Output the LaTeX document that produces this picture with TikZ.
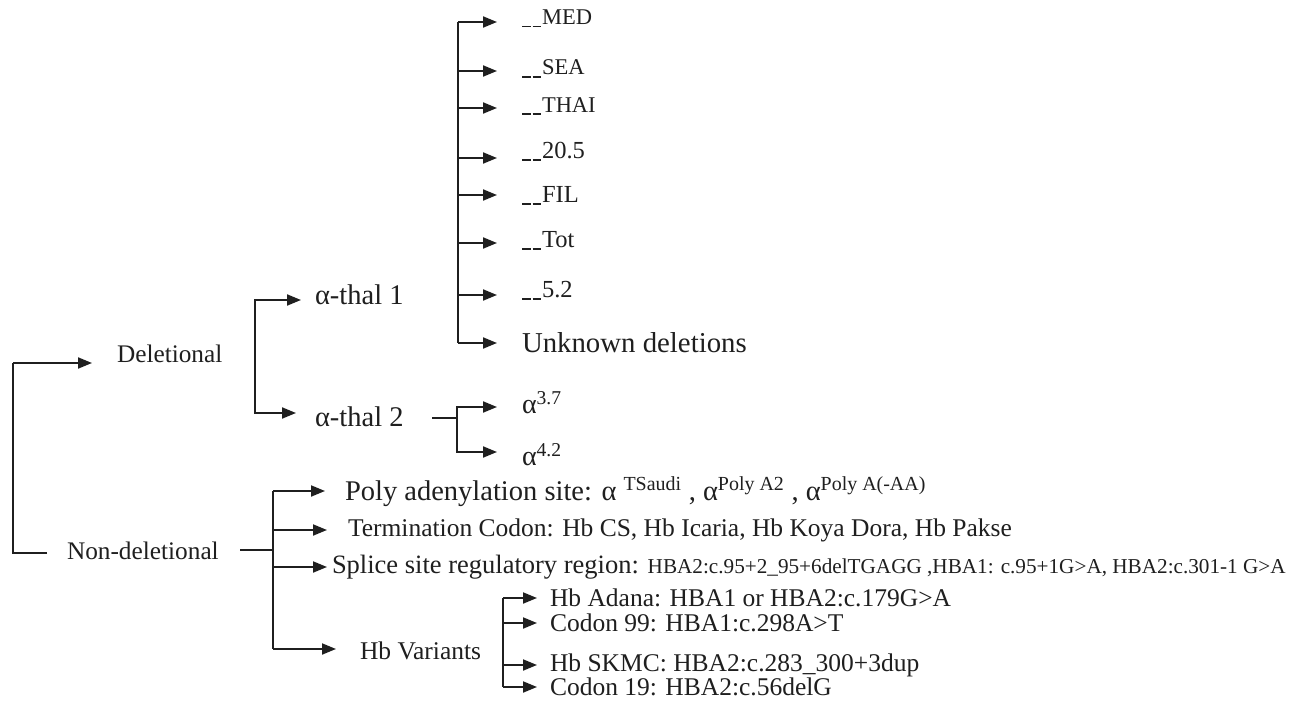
\documentclass[tikz,border=0pt]{standalone}
\usepackage{fontspec}
\setmainfont{Liberation Serif}
\usetikzlibrary{arrows.meta}
\newcommand\fs[1]{\fontsize{#1}{#1}\selectfont}
\newcommand\dd{\rule[-2.5pt]{8.5pt}{1.7pt}\hspace{2pt}\rule[-2.5pt]{8.5pt}{1.7pt}\hspace{1pt}}
\begin{document}
\begin{tikzpicture}[x=1pt,y=-1pt,line width=1.9pt,color=black!88,
  arr/.style={-{Triangle[length=14pt,width=11pt]}},
  lbl/.style={inner sep=0pt,outer sep=0pt,text=black!88}]
\useasboundingbox (0,0) rectangle (1302,701);
\fill[white] (0,0) rectangle (1302,701);

% ---------- labels ----------
\node[lbl,anchor=base west,font=\fs{25.3}] (del) at (117,362) {Deletional};
\node[lbl,anchor=base west,font=\fs{25.3}] (nondel) at (67,559) {Non-deletional};
\node[lbl,anchor=west,font=\fs{28.5}] (t1) at (315,295) {α-thal 1};
\node[lbl,anchor=west,font=\fs{28.5}] (t2) at (315,417) {α-thal 2};

\node[lbl,anchor=base west,font=\fs{22.5}] (med)  at (522,25)  {\dd MED};
\node[lbl,anchor=base west,font=\fs{22.5}] (sea)  at (522,75)  {\dd SEA};
\node[lbl,anchor=base west,font=\fs{22.5}] (thai) at (522,112) {\dd THAI};
\node[lbl,anchor=base west,font=\fs{24.5}] (ft)   at (522,158) {\dd 20.5};
\node[lbl,anchor=base west,font=\fs{24.5}] (fil)  at (522,202) {\dd FIL};
\node[lbl,anchor=base west,font=\fs{24.5}] (tot)  at (522,247) {\dd Tot};
\node[lbl,anchor=base west,font=\fs{24.5}] (fv)   at (522,297) {\dd 5.2};
\node[lbl,anchor=base west,font=\fs{28.8}] (unk)  at (522,352) {Unknown deletions};

\node[lbl,anchor=west,font=\fs{28}] (a37) at (522,403) {α\textsuperscript{3.7}};
\node[lbl,anchor=west,font=\fs{28}] (a42) at (522,455) {α\textsuperscript{4.2}};

\node[lbl,anchor=base west,font=\fs{28.5}] (poly) at (345,500)
  {Poly adenylation site: α \textsuperscript{TSaudi} , α\textsuperscript{Poly A2} , α\textsuperscript{Poly A(-AA)}};
\node[lbl,anchor=west,font=\fs{25.5}] (term) at (348,530)
  {Termination Codon: Hb CS, Hb Icaria, Hb Koya Dora, Hb Pakse};
\node[lbl,anchor=west] (spl) at (332,567)
  {{\fs{26.5}Splice site regulatory region: }{\fs{21.2}HBA2:c.95+2\_95+6delTGAGG ,HBA1: c.95+1G>A, HBA2:c.301-1 G>A}};
\node[lbl,anchor=west,font=\fs{25.5}] (hbv) at (360,651) {Hb Variants};

\node[lbl,anchor=west,font=\fs{25.5}] (v1) at (550,598) {Hb Adana: HBA1 or HBA2:c.179G>A};
\node[lbl,anchor=west,font=\fs{25.5}] (v2) at (550,623) {Codon 99: HBA1:c.298A>T};
\node[lbl,anchor=west,font=\fs{25.5}] (v3) at (550,665) {Hb SKMC: HBA2:c.283\_300+3dup};
\node[lbl,anchor=west,font=\fs{25.5}] (v4) at (550,687) {Codon 19: HBA2:c.56delG};

% ---------- coordinates ----------
\coordinate (mtop) at (13,363);
\coordinate (mbot) at (13,553);
\coordinate (mend) at (47,553);
\coordinate (mtip) at (92,363);

\coordinate (dmid) at (255,357);
\coordinate (d1tip) at (301,300);
\coordinate (d2tip) at (296,413);

\coordinate (sx) at (458,0);
\coordinate (stip) at (497,0);

\coordinate (t2a) at (432,418);
\coordinate (t2b) at (457,418);
\coordinate (a37tip) at (497,407);
\coordinate (a42tip) at (497,452);

\coordinate (na) at (240,550);
\coordinate (nb) at (273,550);
\coordinate (ntop) at (273,491);
\coordinate (nbot) at (273,649);

\coordinate (hx) at (503,0);
\coordinate (htip) at (537,0);

% ---------- connectors ----------
\draw (mend) -- (mbot) -- (mtop);
\draw[arr] (mtop) -- (mtip);

\draw[arr] (dmid) |- (d1tip);
\draw[arr] (dmid) |- (d2tip);

\draw (sx |- 0,22) -- (sx |- 0,343);
\foreach \yy in {22,71,108,158,195,243,295,343}
  \draw[arr] (sx |- 0,\yy) -- (stip |- 0,\yy);

\draw (t2a) -- (t2b);
\draw[arr] (t2b) |- (a37tip);
\draw[arr] (t2b) |- (a42tip);

\draw (na) -- (nb);
\draw (ntop) -- (nbot);
\draw[arr] (ntop) -- (325,491);
\draw[arr] (nb |- 0,530) -- (327,530);
\draw[arr] (nb |- 0,567) -- (327,567);
\draw[arr] (nbot) -- (336,649);

\draw (hx |- 0,598) -- (hx |- 0,687);
\foreach \yy in {598,623,665,687}
  \draw[arr] (hx |- 0,\yy) -- (htip |- 0,\yy);
\end{tikzpicture}
\end{document}
